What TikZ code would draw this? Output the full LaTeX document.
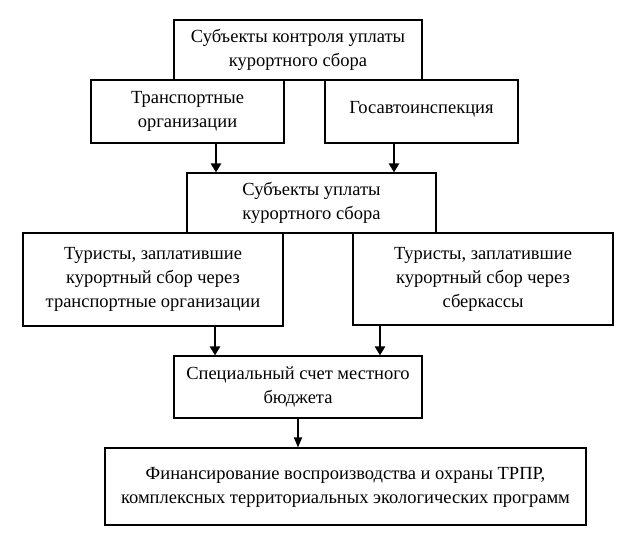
\documentclass[tikz,border=0pt]{standalone}
\usepackage{fontspec}
\setmainfont{Liberation Serif}
\usetikzlibrary{arrows.meta}
\begin{document}
\begin{tikzpicture}[x=1pt,y=-1pt,
  box/.style={draw=black,line width=1.1pt,fill=white,rectangle,inner sep=0pt,align=center,
    font=\fontsize{18.5}{24}\selectfont},
  edge/.style={line width=1.8pt,line cap=rect},
  arr/.style={line width=2.8pt,-{Triangle[width=10pt,length=9pt]}},
  thinarr/.style={line width=1.4pt,-{Triangle[width=8pt,length=10pt]}}]
\useasboundingbox (0,0) rectangle (641,540);
% boxes: centre, size
\node[box,minimum width=248pt,minimum height=60pt] (b1) at (298,50) {\raisebox{-3pt}{\begin{tabular}{@{}c@{}}Субъекты контроля уплаты\\курортного сбора\end{tabular}}};
\node[box,minimum width=193pt,minimum height=63pt] (b2) at (187.5,111.5) {Транспортные\\организации};
\node[box,minimum width=193pt,minimum height=63pt] (b3) at (421.5,111.5) {\raisebox{8pt}{Госавтоинспекция}};
\node[box,minimum width=249pt,minimum height=60pt] (b4) at (311.5,203) {\raisebox{-3pt}{\begin{tabular}{@{}c@{}}Субъекты уплаты\\курортного сбора\end{tabular}}};
\node[box,minimum width=260pt,minimum height=93pt] (b5) at (153,279.5) {Туристы, заплатившие\\курортный сбор через\\транспортные организации};
\node[box,minimum width=260pt,minimum height=92pt] (b6) at (483,279) {Туристы, заплатившие\\курортный сбор через\\сберкассы};
\node[box,minimum width=248pt,minimum height=62pt] (b7) at (298,387) {\raisebox{-2pt}{\begin{tabular}{@{}c@{}}Специальный счет местного\\бюджета\end{tabular}}};
\node[box,minimum width=481pt,minimum height=77pt] (b8) at (345.5,486.5) {\raisebox{6pt}{\begin{tabular}{@{}c@{}}Финансирование воспроизводства и охраны ТРПР,\\комплексных территориальных экологических программ\end{tabular}}};
% thicker lower/right edges
\foreach \n in {b1,b2,b3,b4,b5,b6,b7,b8}
  \draw[edge] (\n.north east) -- (\n.south east) -- (\n.south west);
% arrow columns
\coordinate (c1) at (216,0);
\coordinate (c2) at (394,0);
\coordinate (c3) at (215,0);
\coordinate (c4) at (380,0);
\coordinate (c5) at (298,0);
\draw[arr] (b2.south -| c1) -- (b4.north -| c1);
\draw[arr] (b3.south -| c2) -- (b4.north -| c2);
\draw[arr] (b5.south -| c3) -- (b7.north -| c3);
\draw[arr] (b6.south -| c4) -- (b7.north -| c4);
\draw[thinarr] (b7.south -| c5) -- (b8.north -| c5);
\end{tikzpicture}
\end{document}
